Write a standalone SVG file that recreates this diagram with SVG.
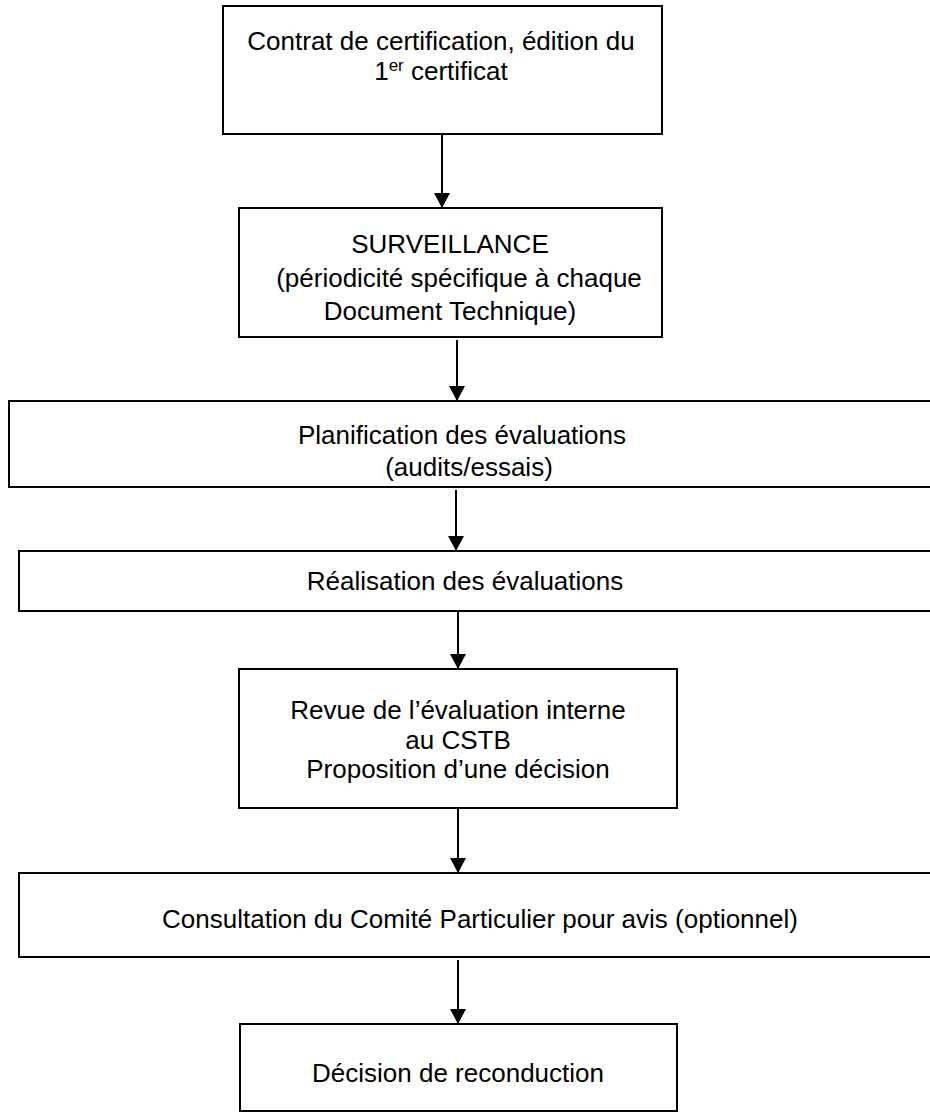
<svg xmlns="http://www.w3.org/2000/svg" width="930" height="1113" viewBox="0 0 930 1113">
<style>
.box{fill:#fff;stroke:#000;stroke-width:2}
.t{font-family:"Liberation Sans",Arial,sans-serif;font-size:26px;fill:#000;text-anchor:middle}
.c{stroke:#000;stroke-width:2;fill:none;marker-end:url(#ah)}
</style>
<defs>
<marker id="ah" markerUnits="userSpaceOnUse" markerWidth="16" markerHeight="18" refX="15" refY="8" orient="auto">
<path d="M0,0 L15,8 L0,16 Z" fill="#000"/>
</marker>
</defs>
<rect width="930" height="1113" fill="#fff"/>
<g id="connectors">
<line class="c" x1="442" y1="134" x2="442" y2="208"/>
<line class="c" x1="457" y1="340" x2="457" y2="401"/>
<line class="c" x1="456" y1="490" x2="456" y2="551"/>
<line class="c" x1="458" y1="611" x2="458" y2="669"/>
<line class="c" x1="458" y1="808" x2="458" y2="873"/>
<line class="c" x1="458" y1="960" x2="458" y2="1024"/>
</g>
<g id="n1">
<rect class="box" x="223" y="6" width="439" height="128"/>
<text class="t" x="441" y="50">Contrat de certification, édition du</text>
<text class="t" x="441" y="80">1<tspan font-size="17" dy="-9">er</tspan><tspan dy="9"> certificat</tspan></text>
</g>
<g id="n2">
<rect class="box" x="239" y="208" width="423" height="129"/>
<text class="t" x="450" y="253">SURVEILLANCE</text>
<text class="t" x="459" y="287">(périodicité spécifique à chaque</text>
<text class="t" x="450" y="320">Document Technique)</text>
</g>
<g id="n3">
<rect class="box" x="9" y="401" width="930" height="86"/>
<text class="t" x="462" y="444">Planification des évaluations</text>
<text class="t" x="469" y="476">(audits/essais)</text>
</g>
<g id="n4">
<rect class="box" x="19" y="551" width="920" height="60"/>
<text class="t" x="465" y="590">Réalisation des évaluations</text>
</g>
<g id="n5">
<rect class="box" x="239" y="669" width="438" height="139"/>
<text class="t" x="458" y="719">Revue de l’évaluation interne</text>
<text class="t" x="458" y="749">au CSTB</text>
<text class="t" x="458" y="778">Proposition d’une décision</text>
</g>
<g id="n6">
<rect class="box" x="19" y="873" width="920" height="84"/>
<text class="t" x="480" y="928">Consultation du Comité Particulier pour avis (optionnel)</text>
</g>
<g id="n7">
<rect class="box" x="240" y="1024" width="437" height="87"/>
<text class="t" x="458" y="1082">Décision de reconduction</text>
</g>
</svg>
